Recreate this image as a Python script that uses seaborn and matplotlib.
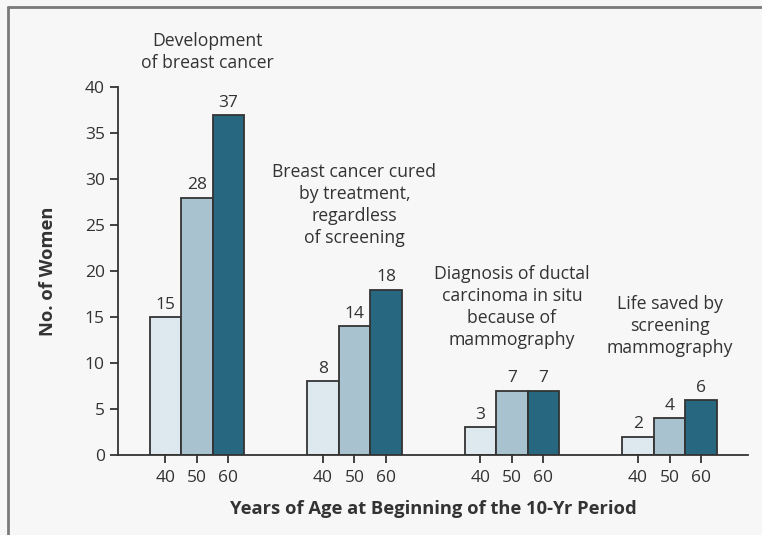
import pandas as pd
import matplotlib.pyplot as plt
import seaborn as sns
from matplotlib.lines import Line2D

# Outcomes per 1000 women screened, by age at start of the 10-year period
outcomes = [
    "Development\nof breast cancer",
    "Breast cancer cured\nby treatment,\nregardless\nof screening",
    "Diagnosis of ductal\ncarcinoma in situ\nbecause of\nmammography",
    "Life saved by\nscreening\nmammography",
]
ages = ["40", "50", "60"]
women_40 = [15, 8, 3, 2]
women_50 = [28, 14, 7, 4]
women_60 = [37, 18, 7, 6]
colors = ["#dde8ef", "#a9c2cf", "#276780"]

rows = []
for age, vals in zip(ages, [women_40, women_50, women_60]):
    for outcome, v in zip(outcomes, vals):
        rows.append({"outcome": outcome, "age": age, "women": v})
df = pd.DataFrame(rows)

sns.set_style("ticks")
plt.rcParams["font.family"] = ["Open Sans", "DejaVu Sans"]
bg = "#f7f7f7"
ink = "#333333"

fig = plt.figure(figsize=(7.62, 5.35), dpi=100, facecolor=bg)
ax = fig.add_axes([0.155, 0.1495, 0.827, 0.6875], facecolor=bg)

sns.barplot(data=df, x="outcome", y="women", hue="age", palette=colors,
            saturation=1, width=0.6, edgecolor=ink, linewidth=1.3,
            legend=False, ax=ax)

for cont in ax.containers:
    ax.bar_label(cont, padding=3, fontsize=12.5, color=ink)

# one tick under every bar, labelled with the age
centers, labels = [], []
for age, cont in zip(ages, ax.containers):
    for p in cont.patches:
        centers.append(p.get_x() + p.get_width() / 2)
        labels.append(age)
order = sorted(range(len(centers)), key=lambda i: centers[i])
ax.set_xticks([centers[i] for i in order])
ax.set_xticklabels([labels[i] for i in order], fontsize=12.5, color=ink)

ax.set_xlim(-0.5, 3.5)
ax.set_ylim(0, 40)
ax.set_yticks(range(0, 41, 5))
ax.tick_params(axis="y", labelsize=12.5, colors=ink, length=6, width=1.3)
ax.tick_params(axis="x", length=6, width=1.3, color=ink, pad=5)
ax.spines["top"].set_visible(False)
ax.spines["right"].set_visible(False)
for s in ["left", "bottom"]:
    ax.spines[s].set_color(ink)
    ax.spines[s].set_linewidth(1.3)

ax.set_xlabel("Years of Age at Beginning of the 10-Yr Period", fontsize=13.2,
              fontweight="bold", color=ink, labelpad=10)
ax.set_ylabel("No. of Women", fontsize=13.2, fontweight="bold", color=ink, labelpad=20)

# group captions above the bars
caption_pos = [(0.065, 43.8), (0.0, 27.2), (0.0, 16.1), (0.0, 14.0)]
for i, (text, (dx, y)) in enumerate(zip(outcomes, caption_pos)):
    ax.text(i + dx, y, text, ha="center", va="center", fontsize=12.7,
            color=ink, linespacing=1.3, clip_on=False)

# frame at the left and top edge of the figure
fig.add_artist(Line2D([0.0105, 0.0105], [0, 0.987], transform=fig.transFigure,
                      color="#7a7a7a", linewidth=2))
fig.add_artist(Line2D([0.0105, 1.0], [0.987, 0.987], transform=fig.transFigure,
                      color="#7a7a7a", linewidth=2))

fig.savefig("out.png", dpi=100, facecolor=bg)
